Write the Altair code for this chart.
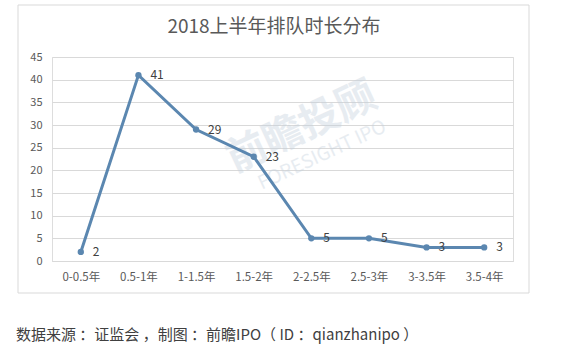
import altair as alt
import pandas as pd

categories = ["0-0.5年", "0.5-1年", "1-1.5年", "1.5-2年", "2-2.5年", "2.5-3年", "3-3.5年", "3.5-4年"]
values = [2, 41, 29, 23, 5, 5, 3, 3]
y_ticks = [0, 5, 10, 15, 20, 25, 30, 35, 40, 45]
title_text = "2018上半年排队时长分布"
footer_text = "数据来源 ：证监会 ，制图 ：前瞻IPO（ ID ：qianzhanipo ）"
wm_cn = "前瞻投顾"
wm_en = "FORESIGHT IPO"

df = pd.DataFrame({"cat": categories, "val": values})
one = pd.DataFrame({"a": [0]})

FONT = "Noto Sans CJK SC"
W, H = 461, 204
L, T = 52, 57

xenc = alt.X("cat:N", sort=categories,
             scale=alt.Scale(paddingInner=0, paddingOuter=0),
             axis=alt.Axis(title=None, labelAngle=0, ticks=False, domain=True,
                           domainColor="#d9d9d9", labelColor="#595959",
                           labelFontSize=11.5, labelPadding=10, labelFont=FONT))
yenc = alt.Y("val:Q", scale=alt.Scale(domain=[0, 45], nice=False),
             axis=alt.Axis(title=None, values=y_ticks, ticks=False, domain=False,
                           gridColor="#d9d9d9", labelColor="#595959",
                           labelFontSize=11, labelPadding=10, labelFont=FONT))

border = alt.Chart(one).mark_rect(fill="white", fillOpacity=0, stroke="#d9d9d9", strokeWidth=1).encode(
    x=alt.value(18 - L), x2=alt.value(529 - L), y=alt.value(5 - T), y2=alt.value(293 - T))

wm1 = alt.Chart(one).mark_text(text=wm_cn, font=FONT, fontSize=40, fontWeight="bold",
                               color="#c5d1dd", opacity=0.4, angle=335).encode(
    x=alt.value(302 - L), y=alt.value(128 - T))
wm2 = alt.Chart(one).mark_text(text=wm_en, font=FONT, fontSize=19,
                               color="#c5d1dd", opacity=0.4, angle=335).encode(
    x=alt.value(322 - L), y=alt.value(155 - T))

base = alt.Chart(df).encode(x=xenc, y=yenc)
line = base.mark_line(color="#5b87b0", strokeWidth=3)
pts = base.mark_point(filled=True, size=40, color="#5b87b0", opacity=1)
labels = base.mark_text(align="left", dx=12, fontSize=12, font=FONT, color="#404040").encode(
    text="val:Q")

title = alt.Chart(one).mark_text(text=title_text, font=FONT, fontSize=19, color="#595959").encode(
    x=alt.value(274 - L), y=alt.value(27 - T))
footer = alt.Chart(one).mark_text(text=footer_text, font=FONT, fontSize=15, color="#404040",
                                  align="left").encode(
    x=alt.value(16 - L), y=alt.value(335 - T))

chart = alt.layer(border, wm1, wm2, line, pts, labels, title, footer).properties(
    width=W, height=H,
    autosize=alt.AutoSizeParams(type="none"),
    padding={"left": L, "top": T, "right": 561 - L - W, "bottom": 351 - T - H},
).configure_view(stroke=None).configure(background="white")

chart.save("out.html", embed_options={"renderer": "svg", "actions": False})
